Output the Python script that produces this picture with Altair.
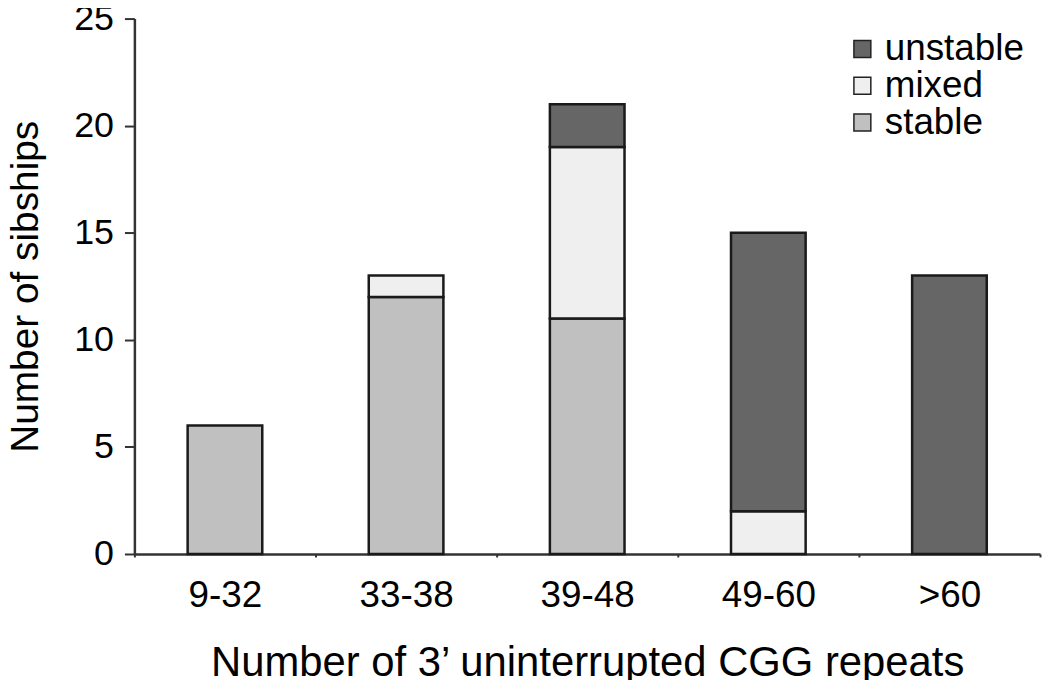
import altair as alt
import pandas as pd

categories = ["9-32", "33-38", "39-48", "49-60", ">60"]
stable = [6, 12, 11, 0, 0]
mixed = [0, 1, 8, 2, 0]
unstable = [0, 0, 2, 13, 13]
series = ["unstable", "mixed", "stable"]
colors = ["#666666", "#efefef", "#c0c0c0"]
y_ticks = [0, 5, 10, 15, 20, 25]

rows = []
for i, c in enumerate(categories):
    for s, vals, order in [("stable", stable, 0), ("mixed", mixed, 1), ("unstable", unstable, 2)]:
        if vals[i] > 0:
            rows.append({"group": c, "status": s, "count": vals[i], "order": order})
df = pd.DataFrame(rows)

FONT = "Liberation Sans"

chart = alt.Chart(df).mark_bar(size=75, stroke="#1a1a1a", strokeWidth=2.5).encode(
    x=alt.X(
        "group:N",
        sort=categories,
        scale=alt.Scale(paddingInner=0, paddingOuter=0),
        axis=alt.Axis(
            title="Number of 3\u2019 uninterrupted CGG repeats",
            labelAngle=0,
            labelFontSize=37,
            labelColor="black",
            labelPadding=21,
            tickSize=3,
            tickBand="extent",
            tickColor="#333333",
            tickWidth=2,
            domainColor="#333333",
            domainWidth=2.5,
            titleFontSize=42,
            titleFontWeight="normal",
            titleColor="black",
            titleBaseline="alphabetic",
            titleY=122,
        ),
    ),
    y=alt.Y(
        "count:Q",
        stack="zero",
        scale=alt.Scale(domain=[0, 25], nice=False),
        axis=alt.Axis(
            title="Number of sibships",
            values=y_ticks,
            grid=False,
            labelFontSize=36,
            labelColor="black",
            labelPadding=11,
            tickSize=10,
            tickColor="#333333",
            tickWidth=2,
            domainColor="#333333",
            domainWidth=2.5,
            titleFontSize=39,
            titleFontWeight="normal",
            titleColor="black",
            titleBaseline="alphabetic",
            titleX=-97,
        ),
    ),
    color=alt.Color(
        "status:N",
        scale=alt.Scale(domain=series, range=colors),
        legend=alt.Legend(
            title=None,
            orient="none",
            legendX=713,
            legendY=12,
            symbolType="square",
            symbolSize=289,
            symbolStrokeColor="#222222",
            symbolStrokeWidth=1.5,
            symbolOpacity=1,
            labelFontSize=37,
            labelColor="black",
            labelOffset=4,
            rowPadding=-1.5,
            padding=0,
            labelLimit=400,
        ),
    ),
    order=alt.Order("order:Q", sort="ascending"),
).properties(
    width=910,
    height=538,
    padding={"left": 127, "top": 9, "right": 2, "bottom": 125},
    autosize=alt.AutoSizeParams(type="none"),
).configure(font=FONT).configure_view(stroke=None)

chart.save("out.html", embed_options={"renderer": "svg", "actions": False})
